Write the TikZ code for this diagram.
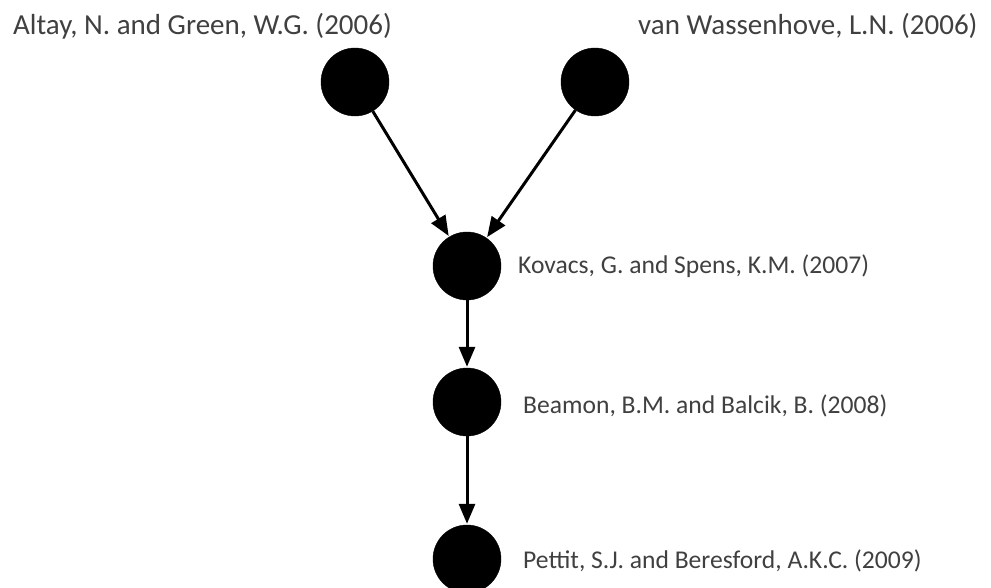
\documentclass[tikz,border=0pt]{standalone}
\usepackage{fontspec}
\setmainfont{Carlito}
\usetikzlibrary{arrows.meta}
\begin{document}
\begin{tikzpicture}[x=1pt,y=-1pt,
  paper/.style={circle,fill=black,draw=black,minimum size=68pt,inner sep=0pt},
  cite/.style={anchor=base west,text=black!75,inner sep=0pt},
  citetop/.style={cite,font=\fontsize{29}{32}\selectfont},
  citelow/.style={cite,font=\fontsize{25.6}{28}\selectfont},
  cites/.style={-{Triangle[length=20pt,width=16pt]},line width=3pt,black,shorten >=1pt}]
  \useasboundingbox (0,0) rectangle (991,588);
  % papers
  \node[paper] (altay) at (355,82) {};
  \node[paper] (wass) at (595,82) {};
  \node[paper] (kovacs) at (467,266) {};
  \node[paper] (beamon) at (467,402) {};
  \node[paper] (pettit) at (467,559) {};
  % references
  \node[citetop] (laltay) at (13,35) {Altay, N. and Green, W.G. (2006)};
  \node[citetop] (lwass) at (638,35) {van Wassenhove, L.N. (2006)};
  \node[citelow] (lkovacs) at (518,273) {Kovacs, G. and Spens, K.M. (2007)};
  \node[citelow] (lbeamon) at (523,413) {Beamon, B.M. and Balcik, B. (2008)};
  \node[citelow] (lpettit) at (523,568) {Pettit, S.J. and Beresford, A.K.C. (2009)};
  % citation links
  \draw[cites] (altay) -- (kovacs);
  \draw[cites] (wass) -- (kovacs);
  \draw[cites] (kovacs) -- (beamon);
  \draw[cites] (beamon) -- (pettit);
\end{tikzpicture}
\end{document}
